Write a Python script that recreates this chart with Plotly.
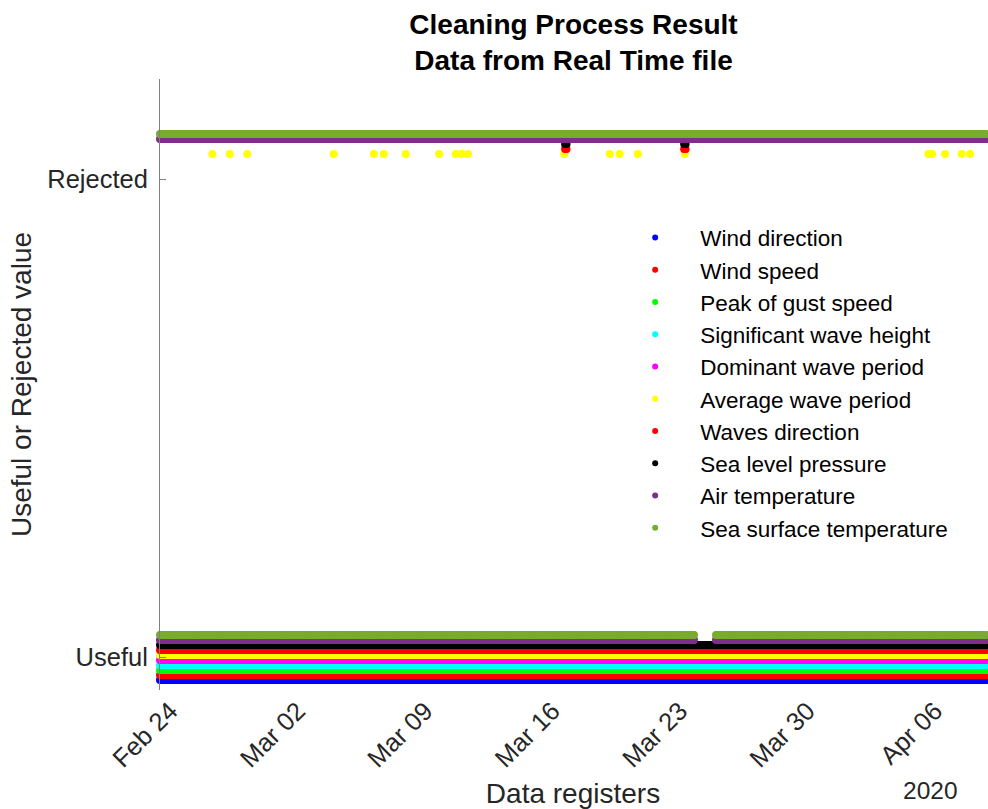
import pandas as pd
import plotly.graph_objects as go

# ---- data -----------------------------------------------------------------
SERIES = [
    "Wind direction", "Wind speed", "Peak of gust speed",
    "Significant wave height", "Dominant wave period", "Average wave period",
    "Waves direction", "Sea level pressure", "Air temperature",
    "Sea surface temperature",
]
COLORS = [
    "#0000FF", "#FF0000", "#00FF00", "#00FFFF", "#FF00FF",
    "#FFFF00", "#FF0000", "#000000", "#7E2F8E", "#77AC30",
]

# hourly registers of the real time file
REGISTER_START = "2020-02-23 13:00"
REGISTER_END = "2020-04-08 22:00"

# registers rejected by the cleaning process (single timestamps)
REJECTED_AVG_WAVE_PERIOD = [
    "2020-02-26 10:00", "2020-02-27 09:00", "2020-02-28 08:00",
    "2020-03-04 02:00", "2020-03-06 07:00", "2020-03-06 20:00",
    "2020-03-08 01:00", "2020-03-09 21:00", "2020-03-10 19:00",
    "2020-03-11 03:00", "2020-03-11 11:00", "2020-03-16 18:00",
    "2020-03-19 06:00", "2020-03-19 19:00", "2020-03-20 19:00",
    "2020-03-23 09:00", "2020-04-05 18:00", "2020-04-05 23:00",
    "2020-04-06 16:00", "2020-04-07 14:00", "2020-04-08 01:00",
]
REJECTED_WAVES_DIRECTION = [
    "2020-03-16 19:00", "2020-03-16 20:00", "2020-03-16 21:00",
    "2020-03-23 08:00", "2020-03-23 09:00", "2020-03-23 10:00",
]
REJECTED_SEA_LEVEL_PRESSURE = [
    "2020-03-16 19:00", "2020-03-16 20:00", "2020-03-16 21:00",
    "2020-03-23 08:00", "2020-03-23 09:00", "2020-03-23 10:00",
]
# temperature channels: rejected copy over the whole record,
# useful copy missing during one interval
TEMPERATURE_REJECTED_SPAN = (REGISTER_START, REGISTER_END)
TEMPERATURE_USEFUL_GAP = ("2020-03-23 22:00", "2020-03-25 01:00")

# ---- build marks ----------------------------------------------------------
registers = pd.date_range(REGISTER_START, REGISTER_END, freq="1h")
rejected_points = {
    "Average wave period": REJECTED_AVG_WAVE_PERIOD,
    "Waves direction": REJECTED_WAVES_DIRECTION,
    "Sea level pressure": REJECTED_SEA_LEVEL_PRESSURE,
}
temperature = {"Air temperature", "Sea surface temperature"}

STEP = 0.01          # vertical separation between the series
USEFUL, REJECTED = 0.0, 1.0

FONT = "Liberation Sans, Arial, Helvetica, sans-serif"
TXT = "#262626"

fig = go.Figure()
for i, (name, color) in enumerate(zip(SERIES, COLORS)):
    if name in temperature:
        gap0, gap1 = (pd.Timestamp(t) for t in TEMPERATURE_USEFUL_GAP)
        useful = registers[(registers < gap0) | (registers > gap1)]
        r0, r1 = (pd.Timestamp(t) for t in TEMPERATURE_REJECTED_SPAN)
        rejected = registers[(registers >= r0) & (registers <= r1)]
    else:
        rejected = pd.DatetimeIndex(pd.to_datetime(rejected_points.get(name, [])))
        useful = registers.difference(rejected)
    xs = list(useful) + list(rejected)
    ys = [USEFUL + STEP * i] * len(useful) + [REJECTED + STEP * i] * len(rejected)
    fig.add_trace(go.Scatter(
        x=xs, y=ys, mode="markers", name=name, legendgroup=name,
        showlegend=False, cliponaxis=False, hoverinfo="skip",
        marker=dict(color=color, size=8, line=dict(width=0)),
    ))

# legend entries with smaller dots
for name, color in zip(SERIES, COLORS):
    fig.add_trace(go.Scatter(
        x=[None], y=[None], mode="markers", name=name, legendgroup=name,
        marker=dict(color=color, size=6),
    ))

fig.update_layout(
    width=988, height=809,
    margin=dict(l=160, r=2, t=79, b=119),
    paper_bgcolor="white", plot_bgcolor="white",
    font=dict(family=FONT, size=25, color=TXT),
    title=dict(
        text="<b>Cleaning Process Result</b><br><b>Data from Real Time file</b>",
        x=0.5805, xanchor="center", y=0.958, yanchor="top",
        font=dict(family=FONT, size=28, color="#000000"),
    ),
    showlegend=True,
    legend=dict(
        x=0.545, y=0.775, xanchor="left", yanchor="top",
        bgcolor="rgba(0,0,0,0)", borderwidth=0,
        font=dict(family=FONT, size=22.5, color="#000000"),
        itemwidth=80, tracegroupgap=0,
    ),
    xaxis=dict(
        range=[REGISTER_START, REGISTER_END],
        tick0="2020-02-24", dtick=7 * 24 * 3600 * 1000, tickformat="%b %d",
        tickangle=-45, showline=False, showgrid=False, zeroline=False,
        ticks="", tickfont=dict(size=25.5, color=TXT), ticklabelshift=2,
        title=dict(text="Data registers", font=dict(size=28, color=TXT), standoff=14),
    ),
    yaxis=dict(
        range=[-0.02, 1.2],
        tickvals=[USEFUL + STEP * 4.5, REJECTED],
        ticktext=["Useful", "Rejected"],
        showline=True, linecolor="#808080", linewidth=1,
        ticks="inside", ticklen=6, tickcolor="#808080",
        showgrid=False, zeroline=False,
        ticklabelstandoff=6,
        tickfont=dict(size=25.5, color=TXT),
        title=dict(text="Useful or Rejected value", font=dict(size=28, color=TXT), standoff=7),
    ),
    annotations=[dict(
        text="2020", xref="paper", yref="paper", x=0.9685, y=-0.165,
        xanchor="right", yanchor="middle", showarrow=False,
        font=dict(family=FONT, size=24.5, color=TXT),
    )],
)

fig.write_html("out.html")
